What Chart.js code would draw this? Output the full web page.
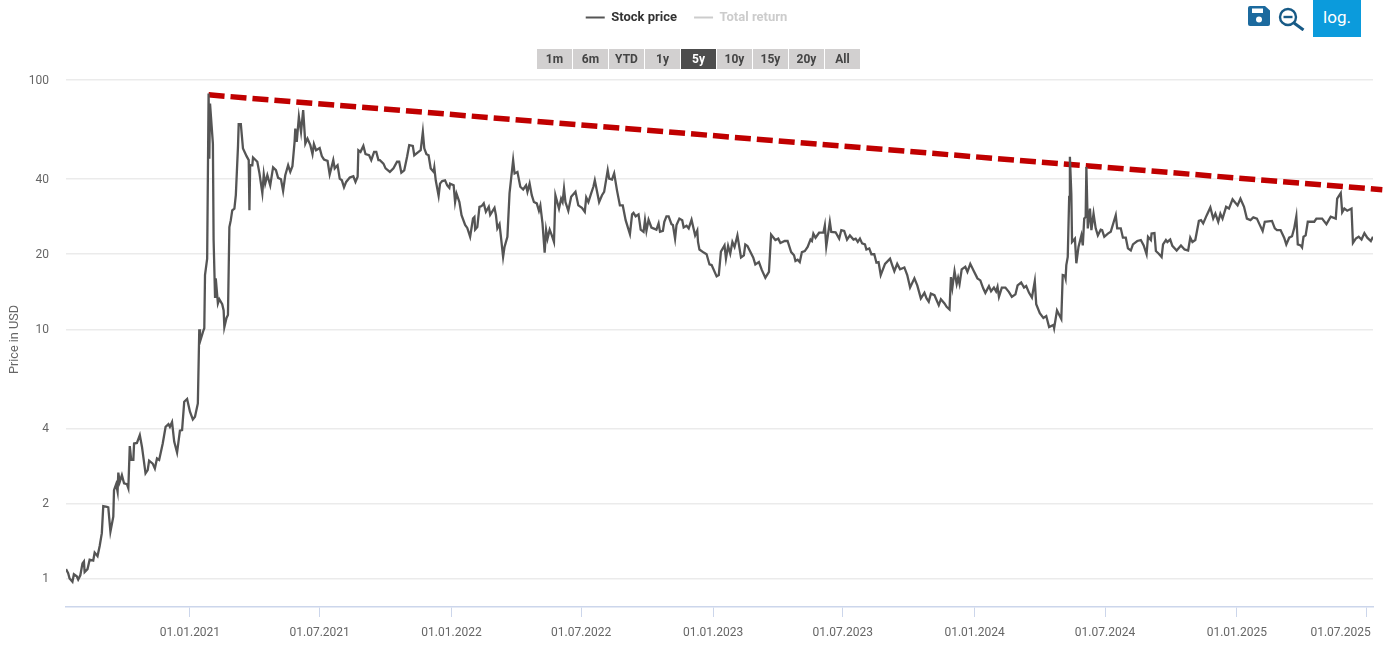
<!DOCTYPE html>
<html>
<head>
<meta charset="utf-8">
<title>Stock price</title>
<script src="https://cdn.jsdelivr.net/npm/chart.js@4"></script>
<style>
    html, body { margin: 0; padding: 0; background: #fff; overflow: hidden; }
    #wrap { position: relative; width: 1385px; height: 645px; font-family: Roboto, sans-serif; }
    #ranges { position: absolute; left: 537px; top: 49px; display: flex; gap: 1px; }
    #ranges span {
        width: 35px; height: 20px; line-height: 21px; text-align: center;
        background: #d2d0d0; color: #444; font-size: 12px; font-weight: 700;
    }
    #ranges span.active { background: #4d4d4d; color: #fff; }
    #logBtn {
        position: absolute; left: 1313px; top: 0; width: 48px; height: 37px; line-height: 35px;
        background: #0b9bdc; color: #fff; font-size: 17px; text-align: center;
    }
    .icon { position: absolute; }
</style>
</head>
<body>
<div id="wrap">
    <canvas id="priceChart" width="1385" height="645"></canvas>
    <div id="ranges"></div>
    <svg class="icon" style="left:1248px;top:6px" width="22" height="20" viewBox="0 0 22 20">
        <path d="M2 0H17L22 4.5V18a2 2 0 0 1-2 2H2a2 2 0 0 1-2-2V2a2 2 0 0 1 2-2z" fill="#1c6a9e"/>
        <rect x="4" y="2.5" width="11" height="4.5" fill="#fff"/>
        <circle cx="11" cy="13.5" r="3" fill="#fff"/>
    </svg>
    <svg class="icon" style="left:1278px;top:5px" width="28" height="26" viewBox="0 0 28 26">
        <circle cx="10" cy="12" r="8" fill="none" stroke="#175a86" stroke-width="2.4"/>
        <line x1="5.5" y1="12" x2="14.5" y2="12" stroke="#175a86" stroke-width="2.4"/>
        <line x1="16" y1="18" x2="25.5" y2="25" stroke="#175a86" stroke-width="3"/>
    </svg>
    <div id="logBtn">log.</div>
</div>

<script>
    const days = [
        -173,-170,-168,-164,-162,-158,-156,-153,-150,-148,
        -147,-143,-140,-135,-133,-129,-126,-123,-121,-116,
        -114,-111,-107,-106,-103,-101,-100,-98,-95,-92,
        -88,-86,-84,-82,-79,-78,-74,-70,-67,-62,
        -59,-57,-52,-49,-46,-43,-38,-34,-30,-28,
        -25,-22,-18,-14,-11,-8,-4,0,4,7,
        11,13,14,19,20,21,24,26,27,28,
        32,33,35,36,39,41,45,47,48,51,
        53,55,57,59,62,64,67,68,71,74,
        79,82,83,84,87,88,94,97,101,103,
        105,108,112,116,120,123,127,130,133,137,
        140,143,146,147,149,152,155,158,161,164,
        168,171,173,176,181,184,187,192,195,200,
        202,206,209,212,215,218,223,228,231,234,
        235,238,242,245,250,253,257,260,263,265,
        270,273,279,284,289,292,295,299,303,306,
        311,313,319,322,325,327,330,333,336,340,
        341,343,347,349,352,356,359,362,363,368,
        370,372,376,379,384,387,391,395,397,398,
        401,404,407,410,413,417,419,425,427,429,
        432,434,437,439,443,446,451,453,457,461,
        465,469,471,474,477,480,484,487,489,492,
        495,497,499,502,505,508,510,515,518,520,
        522,524,528,532,538,542,547,551,553,556,
        560,563,565,571,575,578,583,585,589,592,
        596,600,604,608,614,617,619,622,626,629,
        633,635,637,640,644,651,654,656,660,662,
        665,668,672,674,677,679,683,687,689,693,
        696,700,705,708,709,711,717,721,725,728,
        735,738,741,746,748,751,754,757,760,764,
        769,773,775,778,786,789,794,798,803,808,
        811,815,817,821,824,830,834,839,843,845,
        848,851,854,858,862,866,868,870,873,878,
        884,886,888,893,895,901,906,909,913,917,
        921,926,929,932,935,938,942,944,948,951,
        955,958,961,964,970,977,980,983,987,991,
        997,1001,1005,1011,1015,1020,1025,1028,1031,1034,
        1039,1045,1048,1053,1056,1060,1062,1064,1067,1070,
        1072,1074,1077,1082,1085,1089,1094,1099,1103,1107,
        1110,1115,1118,1122,1125,1127,1129,1133,1138,1143,
        1147,1152,1155,1160,1164,1167,1171,1175,1179,1181,
        1186,1191,1195,1199,1205,1206,1210,1216,1218,1221,
        1222,1223,1225,1227,1228,1230,1231,1235,1237,1240,
        1244,1246,1248,1250,1251,1253,1256,1258,1261,1264,
        1267,1271,1273,1276,1281,1285,1292,1294,1299,1302,
        1306,1309,1313,1316,1322,1327,1331,1335,1337,1341,
        1342,1346,1348,1352,1356,1358,1362,1364,1368,1371,
        1377,1383,1388,1393,1396,1399,1403,1408,1411,1414,
        1419,1424,1428,1431,1435,1438,1441,1446,1450,1455,
        1458,1462,1466,1471,1475,1480,1484,1489,1492,1497,
        1500,1510,1514,1517,1522,1527,1530,1534,1538,1541,
        1544,1546,1550,1552,1554,1557,1560,1564,1569,1572,
        1580,1586,1592,1599,1601,1606,1608,1611,1615,1621,
        1623,1627,1631,1635,1639,1643,1648,1651
    ];

    const prices = [
        1.09,1.05,1.00,0.97,1.04,1.02,0.99,1.03,1.15,1.17,
        1.06,1.09,1.19,1.18,1.27,1.23,1.35,1.52,1.95,1.94,
        1.93,1.54,1.77,2.26,2.39,2.23,2.66,2.44,2.60,2.41,
        2.39,2.30,3.40,2.99,2.99,3.48,3.50,3.76,3.38,2.64,
        2.72,2.97,2.89,2.76,3.03,2.99,3.48,4.06,4.16,4.06,
        4.24,3.54,3.20,3.92,3.94,5.12,5.25,4.67,4.35,4.46,
        5.04,10.0,8.91,9.93,10.1,16.5,19.2,88.3,48.3,80.5,
        55.6,22.8,13.5,16.0,12.7,13.2,12.6,11.9,10.2,11.1,
        11.4,25.7,27.4,30.0,30.5,34.5,53.9,66.5,66.5,53.1,
        49.5,47.7,30.0,45.5,45.5,48.9,47.0,42.2,35.2,41.9,
        38.4,41.5,37.8,44.6,43.5,40.5,40.0,35.9,41.5,45.5,
        42.8,45.1,56.5,63.9,56.5,71.2,61.9,75.7,55.6,58.2,
        54.8,50.4,55.3,52.3,53.4,49.5,48.0,47.4,41.8,47.7,
        44.2,45.5,40.2,39.6,37.1,39.0,40.6,41.1,39.0,40.9,
        52.3,51.5,54.4,50.4,49.9,47.7,51.5,51.5,47.7,47.7,
        46.2,44.2,42.8,44.2,47.0,47.0,42.5,43.4,49.2,54.8,
        54.4,49.9,51.5,52.3,61.9,53.2,50.4,49.9,44.2,42.8,
        44.6,39.6,34.3,38.4,39.3,39.6,37.8,36.9,38.4,37.8,
        32.4,35.0,32.4,28.7,26.2,25.5,23.5,27.8,28.2,25.1,
        25.7,31.0,31.2,32.0,29.6,31.0,28.8,30.7,28.7,25.4,
        26.4,23.5,19.5,21.4,23.5,35.2,47.7,42.2,42.8,37.3,
        36.4,37.8,35.6,38.4,34.5,32.4,32.0,29.9,31.4,26.6,
        20.3,25.0,23.1,25.1,23.8,22.4,34.5,30.5,33.4,32.4,
        36.7,32.4,29.9,34.0,35.6,31.4,30.7,29.6,33.8,32.4,
        35.2,37.3,39.6,32.4,34.5,35.6,43.5,40.2,39.9,42.2,
        36.0,31.4,31.4,27.4,24.1,28.9,29.3,28.4,28.9,25.1,
        24.6,27.4,24.8,27.5,25.6,25.1,26.6,24.6,24.8,27.0,
        28.4,28.4,26.4,26.2,23.1,26.2,27.8,27.4,25.6,26.0,
        25.4,27.5,23.8,24.9,22.4,20.9,20.3,20.0,18.2,18.1,
        16.3,16.5,20.5,21.7,19.2,21.6,20.1,22.4,21.4,23.8,
        19.4,19.8,21.9,21.6,19.4,18.2,18.6,17.3,16.1,17.0,
        24.0,23.2,22.8,23.1,22.2,22.6,22.6,20.4,19.8,18.8,
        19.0,18.6,20.4,20.6,21.4,22.9,22.6,24.2,23.3,24.4,
        24.4,26.1,21.5,27.0,24.6,24.5,23.1,25.0,24.8,22.9,
        23.8,22.9,23.1,22.4,23.1,22.1,21.9,20.9,21.1,20.0,
        20.0,18.5,18.6,16.5,18.3,19.2,18.1,17.1,18.3,17.4,
        17.7,16.5,14.7,16.0,15.0,13.3,14.0,13.3,12.9,13.9,
        13.7,12.5,13.2,12.7,12.3,12.0,16.2,14.7,17.1,15.2,
        16.1,15.2,17.4,17.8,17.0,18.3,17.1,16.0,15.7,14.6,
        14.0,14.9,14.2,14.7,14.2,14.8,13.5,14.7,14.7,14.1,
        13.5,13.8,15.0,15.4,14.7,14.9,14.0,13.4,15.6,12.6,
        11.6,11.1,11.3,10.2,10.4,10.1,11.9,11.0,16.5,16.4,
        16.0,18.1,19.5,34.0,49.2,35.0,22.4,23.1,18.4,21.4,
        23.8,21.7,27.8,28.2,44.8,25.4,30.5,25.0,29.1,25.4,
        23.8,25.1,25.0,23.5,24.2,24.6,28.7,25.4,25.4,23.3,
        23.3,21.1,20.7,21.9,22.6,22.8,21.7,20.0,23.5,22.8,
        24.2,24.3,20.6,20.1,19.5,21.9,22.8,22.4,22.9,21.6,
        20.7,21.7,20.9,20.7,23.3,22.4,22.8,27.2,27.4,26.6,
        28.7,30.8,27.8,29.1,27.0,29.1,27.8,31.0,30.5,33.2,
        32.4,31.4,33.4,31.0,27.8,27.4,28.1,27.8,26.6,24.8,
        27.0,27.2,25.4,25.0,25.0,23.3,21.9,23.3,23.6,25.4,
        28.4,21.9,21.7,21.3,23.5,23.8,27.0,27.0,27.0,27.8,
        27.8,26.4,28.3,27.8,33.4,35.2,29.5,30.5,29.9,30.5,
        22.2,23.1,23.5,22.9,24.3,23.3,22.6,23.5
    ];

    // days are counted from 01.01.2021
    const trendDays = [26, 1664];
    const trendPrices = [87.2, 36.3];

    const xTickDays = [0, 181, 365, 546, 730, 911, 1095, 1277, 1461, 1642];
    const xTickLabels = ["01.01.2021", "01.07.2021", "01.01.2022", "01.07.2022", "01.01.2023",
        "01.07.2023", "01.01.2024", "01.07.2024", "01.01.2025", "01.07.2025"];
    const yTicks = [1, 2, 4, 10, 20, 40, 100];
    const rangeLabels = ["1m", "6m", "YTD", "1y", "5y", "10y", "15y", "20y", "All"];
    const legendColors = { "Stock price": "#555555", "Total return": "#cccccc" };

    // range buttons above the plot
    document.getElementById("ranges").innerHTML = rangeLabels
        .map(r => `<span class="${r === "5y" ? "active" : ""}">${r}</span>`)
        .join("");

    // legend takes the whole band above the plot
    const legendBand = {
        id: "legendBand",
        beforeInit(chart) {
            const fit = chart.legend.fit;
            chart.legend.fit = function () {
                fit.call(this);
                this.height = 78;
            };
        }
    };

    // last x label is pulled left so it stays on the page, y labels sit a bit lower
    const labelNudge = {
        id: "labelNudge",
        beforeDraw(chart) {
            const xItems = chart.scales.x.getLabelItems();
            xItems[xItems.length - 1].options.translation[0] -= 26;
            chart.scales.y.getLabelItems().forEach(item => { item.options.translation[1] += 1; });
        }
    };

    new Chart(document.getElementById("priceChart"), {
        type: "line",
        plugins: [legendBand, labelNudge],
        data: {
            datasets: [
                {
                    label: "Stock price",
                    data: days.map((d, i) => ({ x: d, y: prices[i] })),
                    borderColor: "#555555",
                    borderWidth: 2.3,
                    pointRadius: 0,
                    tension: 0
                },
                {
                    label: "Total return",
                    data: [],
                    borderColor: "#cccccc",
                    borderWidth: 2,
                    pointRadius: 0
                },
                {
                    label: "",
                    data: trendDays.map((d, i) => ({ x: d, y: trendPrices[i] })),
                    borderColor: "#c00000",
                    borderWidth: 5.5,
                    borderDash: [16, 6],
                    pointRadius: 0,
                    clip: false
                }
            ]
        },
        options: {
            responsive: false,
            animation: false,
            layout: { autoPadding: false, padding: { top: -6, right: 12 } },
            plugins: {
                tooltip: { enabled: false },
                legend: {
                    position: "top",
                    labels: {
                        padding: 17,
                        usePointStyle: true,
                        pointStyle: "line",
                        pointStyleWidth: 19,
                        font: { family: "Roboto", size: 13, weight: "bold" },
                        generateLabels(chart) {
                            return Chart.defaults.plugins.legend.labels.generateLabels(chart)
                                .filter(item => item.text)
                                .map(item => ({
                                    ...item,
                                    lineWidth: 2,
                                    strokeStyle: legendColors[item.text],
                                    fontColor: item.text === "Stock price" ? "#333333" : legendColors[item.text]
                                }));
                        }
                    }
                }
            },
            scales: {
                x: {
                    type: "linear",
                    min: -173,
                    max: 1651,
                    afterBuildTicks: scale => { scale.ticks = xTickDays.map(value => ({ value })); },
                    afterFit: scale => {
                        // last label may hang past the plot, as in the source chart
                        scale.height = 38;
                        scale.paddingLeft = 0;
                        scale.paddingRight = 0;
                    },
                    border: { color: "#ccd6eb", width: 1.5 },
                    grid: { drawOnChartArea: false, tickLength: 10, color: "#ccd6eb" },
                    ticks: {
                        autoSkip: false,
                        maxRotation: 0,
                        padding: 9,
                        color: "#666666",
                        font: { family: "Roboto", size: 12 },
                        callback: (value, index) => xTickLabels[index]
                    }
                },
                y: {
                    type: "logarithmic",
                    min: 0.7684,
                    max: 107.7,
                    afterBuildTicks: scale => { scale.ticks = yTicks.map(value => ({ value })); },
                    afterFit: scale => { scale.width = 66; },
                    border: { display: false },
                    grid: { color: "#ebebeb", lineWidth: 1.5, drawTicks: false },
                    title: {
                        display: true,
                        text: "Price in USD",
                        color: "#666666",
                        font: { family: "Roboto", size: 12.7 },
                        padding: { top: 7, bottom: 0 }
                    },
                    ticks: {
                        padding: 17,
                        color: "#666666",
                        font: { family: "Roboto", size: 12 },
                        callback: value => String(value)
                    }
                }
            }
        }
    });
</script>
</body>
</html>
